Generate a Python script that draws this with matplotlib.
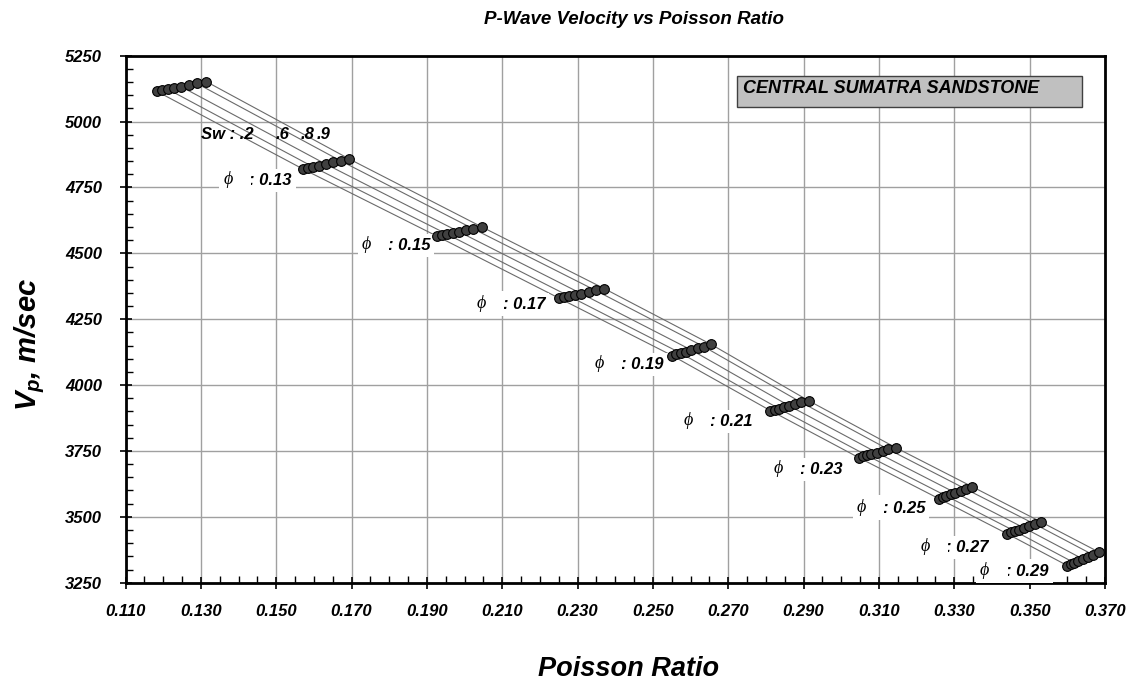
import matplotlib
matplotlib.use('Agg')
import matplotlib.pyplot as plt
from matplotlib.ticker import MultipleLocator, FixedLocator
from matplotlib.patches import Rectangle

plt.rcParams['font.family'] = ['Liberation Sans', 'DejaVu Sans']
plt.rcParams['mathtext.fontset'] = 'custom'
plt.rcParams['mathtext.it'] = 'Liberation Sans:italic:bold'
plt.rcParams['mathtext.rm'] = 'Liberation Sans:bold'
plt.rcParams['mathtext.bf'] = 'Liberation Sans:bold'

# ---------------- data ----------------
porosity = [0.11, 0.13, 0.15, 0.17, 0.19, 0.21, 0.23, 0.25, 0.27, 0.29]
sw_values = [0.2, 0.3, 0.4, 0.5, 0.6, 0.7, 0.8, 0.9]
line_sw = [0.2, 0.4, 0.6, 0.8, 0.9]

poisson_011 = [0.1183, 0.1197, 0.1212, 0.1229, 0.1247, 0.1268, 0.1289, 0.1314]
vp_011 = [5115, 5119, 5123, 5128, 5133, 5139, 5145, 5152]
poisson_013 = [0.1571, 0.1585, 0.1598, 0.1614, 0.1631, 0.1651, 0.1671, 0.1694]
vp_013 = [4820, 4824, 4828, 4833, 4839, 4845, 4851, 4858]
poisson_015 = [0.1927, 0.1940, 0.1953, 0.1969, 0.1985, 0.2004, 0.2023, 0.2046]
vp_015 = [4565, 4569, 4573, 4577, 4582, 4588, 4593, 4600]
poisson_017 = [0.2252, 0.2265, 0.2278, 0.2294, 0.2310, 0.2329, 0.2348, 0.2371]
vp_017 = [4329, 4333, 4337, 4342, 4347, 4353, 4359, 4366]
poisson_019 = [0.2551, 0.2562, 0.2574, 0.2587, 0.2602, 0.2619, 0.2635, 0.2655]
vp_019 = [4112, 4117, 4121, 4127, 4133, 4139, 4146, 4154]
poisson_021 = [0.2812, 0.2823, 0.2834, 0.2847, 0.2861, 0.2878, 0.2894, 0.2913]
vp_021 = [3903, 3907, 3911, 3916, 3922, 3928, 3934, 3941]
poisson_023 = [0.3046, 0.3057, 0.3068, 0.3080, 0.3094, 0.3110, 0.3125, 0.3144]
vp_023 = [3725, 3729, 3733, 3738, 3744, 3750, 3756, 3763]
poisson_025 = [0.3259, 0.3269, 0.3279, 0.3290, 0.3303, 0.3317, 0.3331, 0.3348]
vp_025 = [3569, 3574, 3579, 3585, 3591, 3598, 3605, 3614]
poisson_027 = [0.3440, 0.3450, 0.3460, 0.3472, 0.3485, 0.3499, 0.3514, 0.3531]
vp_027 = [3436, 3441, 3446, 3451, 3458, 3465, 3472, 3480]
poisson_029 = [0.3600, 0.3609, 0.3618, 0.3629, 0.3641, 0.3655, 0.3668, 0.3684]
vp_029 = [3315, 3321, 3326, 3333, 3340, 3348, 3356, 3366]

poisson_groups = [poisson_011, poisson_013, poisson_015, poisson_017, poisson_019,
                  poisson_021, poisson_023, poisson_025, poisson_027, poisson_029]
vp_groups = [vp_011, vp_013, vp_015, vp_017, vp_019,
             vp_021, vp_023, vp_025, vp_027, vp_029]

# phi labels (right edge of ": 0.xx" text, vertical centre) in data units
phi_labels = ['0.13', '0.15', '0.17', '0.19', '0.21', '0.23', '0.25', '0.27', '0.29']
phi_label_x = [0.1541, 0.1909, 0.2214, 0.2528, 0.2764, 0.3003, 0.3223, 0.3392, 0.3550]
phi_label_y = [4776, 4529, 4305, 4078, 3862, 3680, 3532, 3384, 3294]

sw_text = ['Sw : .2', '.6', '.8', '.9']
sw_text_x = [0.1300, 0.1499, 0.1564, 0.1606]
sw_text_y = 4934

x_ticks = [0.110, 0.130, 0.150, 0.170, 0.190, 0.210, 0.230, 0.250, 0.270,
           0.290, 0.310, 0.330, 0.350, 0.370]
y_ticks = [3250, 3500, 3750, 4000, 4250, 4500, 4750, 5000, 5250]

# ---------------- figure ----------------
fig = plt.figure(figsize=(11.29, 6.82), dpi=100)
ax = fig.add_axes([125.5 / 1129, 1 - 582.7 / 682, 979.5 / 1129, 527.0 / 682])

ax.set_xlim(x_ticks[0], x_ticks[-1])
ax.set_ylim(y_ticks[0], y_ticks[-1])
ax.xaxis.set_major_locator(FixedLocator(x_ticks))
ax.yaxis.set_major_locator(FixedLocator(y_ticks))
ax.xaxis.set_minor_locator(MultipleLocator(0.005))
ax.yaxis.set_minor_locator(MultipleLocator(50))
ax.set_xticklabels([f'{v:.3f}' for v in x_ticks])
ax.set_yticklabels([f'{v:d}' for v in y_ticks])

for lab in ax.get_xticklabels() + ax.get_yticklabels():
    lab.set_fontsize(12)
    lab.set_fontweight('bold')
    lab.set_fontstyle('italic')

ax.tick_params(axis='x', which='major', direction='inout', length=8, width=1.2, pad=11)
ax.tick_params(axis='y', which='major', direction='inout', length=8, width=1.2, pad=13)
ax.tick_params(which='minor', direction='in', length=5, width=1.0)

ax.grid(True, which='major', color='#a0a0a0', linewidth=1.0)
ax.set_axisbelow(True)
for sp in ax.spines.values():
    sp.set_linewidth(2.0)
    sp.set_color('black')

# Sw lines connecting equal-saturation points
for sw in line_sw:
    i = sw_values.index(sw)
    xs = [g[i] for g in poisson_groups]
    ys = [g[i] for g in vp_groups]
    ax.plot(xs, ys, color='#6a6a6a', linewidth=0.8, zorder=2)

# points
for xs, ys in zip(poisson_groups, vp_groups):
    ax.plot(xs, ys, linestyle='none', marker='o', markersize=7,
            markerfacecolor='#404040', markeredgecolor='black',
            markeredgewidth=0.8, zorder=4)

# phi labels with white background
for lab, lx, ly in zip(phi_labels, phi_label_x, phi_label_y):
    ax.text(lx, ly, ': ' + lab, ha='right', va='center', fontsize=12,
            fontweight='bold', fontstyle='italic', zorder=3.5, clip_on=False,
            bbox=dict(facecolor='white', edgecolor='none', pad=3))
    ax.annotate('\u03d5   ', xy=(lx, ly), xytext=(-68, 1), textcoords='offset pixels',
                ha='left', va='center', fontsize=13,
                family=['Liberation Serif', 'DejaVu Serif'], fontstyle='italic',
                zorder=3.6, annotation_clip=False,
                bbox=dict(facecolor='white', edgecolor='none', pad=3))

# Sw label
for s, xx in zip(sw_text, sw_text_x):
    ax.text(xx, sw_text_y, s, ha='left', va='baseline', fontsize=12,
            fontweight='bold', fontstyle='italic', zorder=6)

# title box
ax.add_patch(Rectangle((0.6246, 0.9021), 0.3516, 0.0599, transform=ax.transAxes,
                       facecolor='#c0c0c0', edgecolor='#404040', linewidth=1.0,
                       zorder=5))
ax.text(0.6306, 0.9378, 'CENTRAL SUMATRA SANDSTONE', transform=ax.transAxes,
        ha='left', va='center', fontsize=13, fontweight='bold', fontstyle='italic',
        zorder=6)

fig.text(634 / 1129, 1 - 19 / 682, 'P-Wave Velocity vs Poisson Ratio', ha='center',
         va='center', fontsize=13.5, fontweight='bold', fontstyle='italic')
fig.text(629 / 1129, 1 - 676.5 / 682, 'Poisson Ratio', ha='center', va='baseline',
         fontsize=19.5, fontweight='bold', fontstyle='italic')
fig.text(30 / 1129, 1 - 344 / 682, r'$V_p$, m/sec', rotation=90, ha='center',
         va='center', fontsize=21, fontweight='bold', fontstyle='italic')

fig.savefig('out.png', dpi=100)
